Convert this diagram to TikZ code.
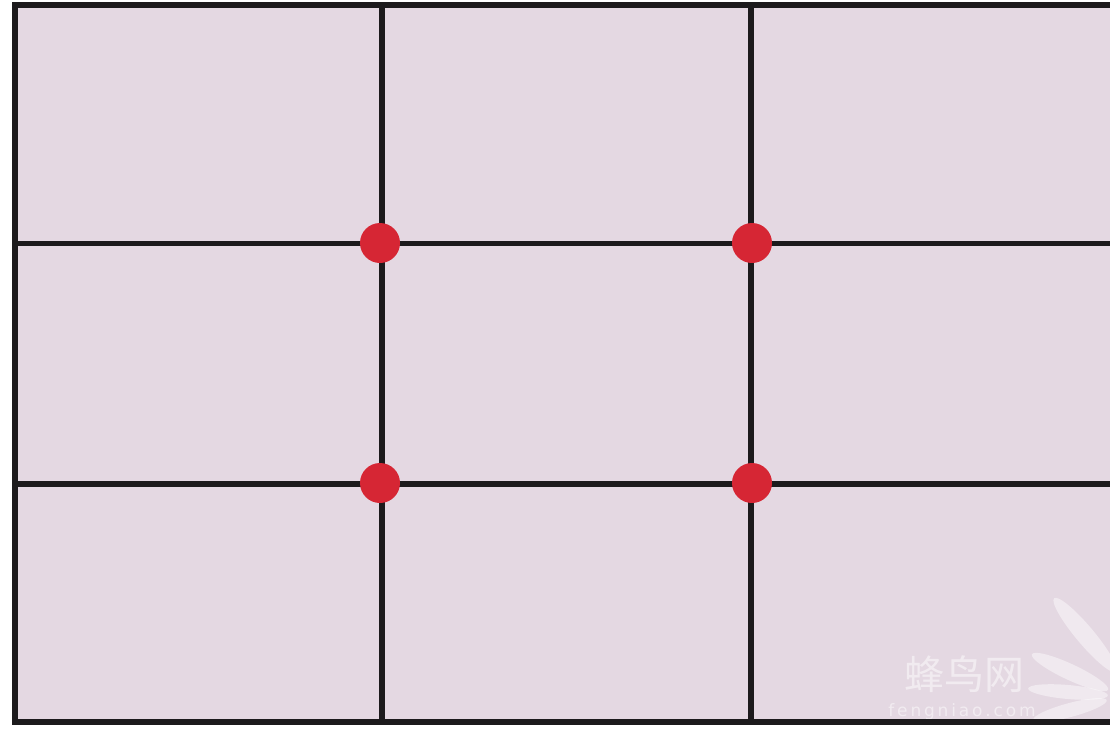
\documentclass[tikz,border=0pt]{standalone}
\usepackage{fontspec}
\newfontfamily\cjk{Noto Sans CJK SC}
\setsansfont{DejaVu Sans}
\definecolor{bgfill}{HTML}{E4D8E2}
\definecolor{gridline}{HTML}{1C1A1C}
\definecolor{dotred}{HTML}{D62634}
\begin{document}
\begin{tikzpicture}[x=1pt,y=-1pt,
  gridstroke/.style={draw=gridline,line width=5.5pt},
  reddot/.style={circle,fill=dotred,minimum size=40pt,inner sep=0pt},
  petal/.style={fill=white,opacity=0.45,draw=none}]
\useasboundingbox (0,0) rectangle (1110,728);
\fill[white] (0,0) rectangle (1110,728);
\fill[bgfill] (15,5) rectangle (1110,722);
% watermark
\begin{scope}
\clip (15,5) rectangle (1110,722);
\fill[petal,rotate around={-50:(1085,635)}] (1085,635) ellipse (48pt and 9pt);
\fill[petal,rotate around={-25:(1070,672)}] (1070,672) ellipse (42pt and 8pt);
\fill[petal,rotate around={-5:(1068,692)}] (1068,692) ellipse (40pt and 7pt);
\fill[petal,rotate around={15:(1070,710)}] (1070,710) ellipse (38pt and 7pt);
\end{scope}
\node[text=white,opacity=0.5,font=\cjk\fontsize{40}{40}\selectfont,anchor=center] (wm) at (964,674) {蜂鸟网};
\node[text=white,opacity=0.5,font=\sffamily\fontsize{17}{17}\selectfont,anchor=center] (wmurl) at (962,712) {f\,e\,n\,g\,n\,i\,a\,o\,.\,c\,o\,m};
% grid
\draw[gridstroke] (1110,5) -- (15,5) -- (15,722) -- (1110,722);
\draw[gridstroke] (382,5) -- (382,722);
\draw[gridstroke] (751,5) -- (751,722);
\draw[gridstroke] (15,243.5) -- (1110,243.5);
\draw[gridstroke] (15,484) -- (1110,484);
% intersection points
\node[reddot] (p1) at (380,243) {};
\node[reddot] (p2) at (752,243) {};
\node[reddot] (p3) at (380,483) {};
\node[reddot] (p4) at (752,483) {};
\end{tikzpicture}
\end{document}
